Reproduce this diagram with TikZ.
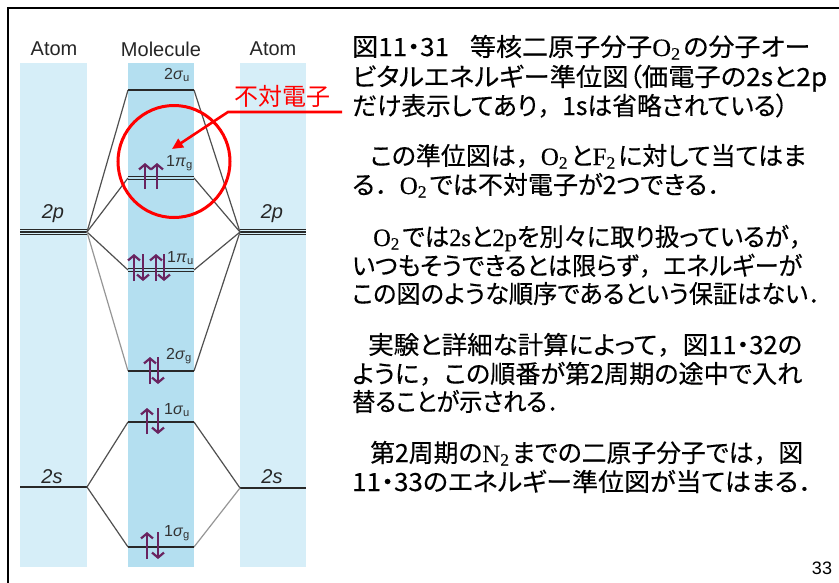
\documentclass[tikz,border=0pt]{standalone}
\usepackage{graphicx}
\usepackage{fontspec}
\setmainfont{Liberation Sans}
\newfontfamily\jp[CharacterWidth=AlternateProportional,FakeBold=0.3]{Noto Sans CJK JP}
\newfontfamily\jpn{Noto Sans CJK JP}
\newfontfamily\jpf[FakeBold=0.3]{Noto Sans CJK JP}
\newfontfamily\tm[FakeBold=0.3]{Liberation Serif}
\usetikzlibrary{arrows.meta}
\definecolor{bandA}{RGB}{214,238,248}
\definecolor{bandM}{RGB}{180,223,240}
\definecolor{lev}{RGB}{40,40,40}
\definecolor{conn}{RGB}{80,80,80}
\definecolor{connlt}{RGB}{150,150,150}
\definecolor{elec}{RGB}{105,35,95}
\definecolor{ann}{RGB}{255,0,0}
\newcommand\mol[2]{{\tm #1\textsubscript{#2}}\kern2.5pt}
\newcommand\fitw[2]{\resizebox{#1pt}{\height}{#2}}
\newcommand\cm{{\jpf ，}}
\newcommand\pd{{\jpf ．}}
\begin{document}
\begin{tikzpicture}[x=1pt,y=-1pt,
  level/.style={draw=lev,line width=2.6pt},
  levthin/.style={draw=lev,line width=1.4pt},
  conn/.style={draw=conn,line width=1.2pt},
  eline/.style={draw=elec,line width=1.3pt,-{Straight Barb[length=5pt,width=12pt,line width=2.2pt]}},
  lab/.style={inner sep=0,font=\fontsize{20}{20}\selectfont,text=black!85},
  orb/.style={inner sep=0,anchor=west,font=\fontsize{16}{16}\selectfont,text=black!80},
  jt/.style={anchor=base west,inner sep=0,font=\fontsize{25}{25}\jp},
  annline/.style={draw=ann,line width=2.6pt},
]
\useasboundingbox (0,0) rectangle (839,582);
\fill[white] (0,0) rectangle (839,582);
\draw[line width=2pt] (8,600) -- (8,8) -- (850,8);

% bands
\fill[bandA] (20,63) rectangle (87,567);
\fill[bandM] (128,63) rectangle (194,567);
\fill[bandA] (240,63) rectangle (306,567);

% headings
\node[lab] (atomL) at (54,49) {Atom};
\node[lab] (mol) at (161,49) {Molecule};
\node[lab] (atomR) at (273,49) {Atom};

% atomic levels
\coordinate (pLa) at (20,232); \coordinate (pL) at (87,232);
\coordinate (pR) at (240,232); \coordinate (pRb) at (306,232);
\coordinate (sLa) at (20,487); \coordinate (sL) at (87,487);
\coordinate (sR) at (240,488); \coordinate (sRb) at (306,488);
\foreach \d in {-2.6,0,2.6}{
  \draw[levthin] ([yshift=\d pt]pLa) -- ([yshift=\d pt]pL);
  \draw[levthin] ([yshift=\d pt]pR) -- ([yshift=\d pt]pRb);
}
\draw[level] (sLa) -- (sL);
\draw[level] (sR) -- (sRb);

% molecular levels
\coordinate (su2l) at (128,90);  \coordinate (su2r) at (194,90);
\coordinate (pg1l) at (128,178); \coordinate (pg1r) at (194,178);
\coordinate (pu1l) at (128,270); \coordinate (pu1r) at (194,270);
\coordinate (sg2l) at (128,371); \coordinate (sg2r) at (194,371);
\coordinate (su1l) at (128,422); \coordinate (su1r) at (194,422);
\coordinate (sg1l) at (128,547); \coordinate (sg1r) at (194,547);

% connectors
\draw[conn] (pL) -- (su2l);
\draw[conn] (pL) -- (pg1l);
\draw[conn] (pL) -- (pu1l);
\draw[conn,draw=connlt] (pL) -- (sg2l);
\draw[conn] (pR) -- (su2r);
\draw[conn] (pR) -- (pg1r);
\draw[conn] (pR) -- (pu1r);
\draw[conn] (pR) -- (sg2r);
\draw[conn] (sL) -- (su1l);
\draw[conn] (sL) -- (sg1l);
\draw[conn] (sR) -- (su1r);
\draw[conn,draw=connlt] (sR) -- (sg1r);

\draw[level] (su2l) -- (su2r);
\foreach \d in {-1.4,1.4}{
  \draw[levthin] ([yshift=\d pt]pg1l) -- ([yshift=\d pt]pg1r);
  \draw[levthin] ([yshift=\d pt]pu1l) -- ([yshift=\d pt]pu1r);
}
\draw[level] (sg2l) -- (sg2r);
\draw[level] (su1l) -- (su1r);
\draw[level] (sg1l) -- (sg1r);

% labels
\node[lab] (p2L) at (53,214) {\textit{2p}};
\node[lab] (p2R) at (272,214) {\textit{2p}};
\node[lab] (s2L) at (52,477) {\textit{2s}};
\node[lab] (s2R) at (272,477) {\textit{2s}};
\node[orb] (lsu2) at (164,75) {2\textit{σ}\textsubscript{u}};
\node[orb] (lpg1) at (166,163) {1\textit{π}\textsubscript{g}};
\node[orb] (lpu1) at (167,258) {1\textit{π}\textsubscript{u}};
\node[orb] (lsg2) at (166,356) {2\textit{σ}\textsubscript{g}};
\node[orb] (lsu1) at (164,410) {1\textit{σ}\textsubscript{u}};
\node[orb] (lsg1) at (164,533) {1\textit{σ}\textsubscript{g}};

% electrons
\draw[eline] (145,189) -- (145,163);
\draw[eline] (157,189) -- (157,163);
\draw[eline] (134,281) -- (134,254);
\draw[eline] (143,254) -- (143,281);
\draw[eline] (156,281) -- (156,254);
\draw[eline] (164,254) -- (164,281);
\draw[eline] (150,384) -- (150,357);
\draw[eline] (158,357) -- (158,384);
\draw[eline] (147,434) -- (147,408);
\draw[eline] (158,408) -- (158,434);
\draw[eline] (147,559) -- (147,532);
\draw[eline] (158,532) -- (158,559);

% annotation
\node[inner sep=0,font=\fontsize{24}{24}\jpn,text=ann] (unp) at (282,96) {不対電子};
\coordinate (aend) at (342,112);
\coordinate (akink) at (228,112);
\coordinate (atip) at (172,149);
\draw[annline,-{Triangle[length=11pt,width=10pt]}] (aend) -- (akink) -- (atip);
\node[draw=ann,line width=3pt,circle,minimum size=112pt,inner sep=0] (ring) at (174,161.5) {};

% text
\node[jt] (t1) at (352,56) {\fitw{458}{図11・31\hspace{0.8em}等核二原子分子\mol{O}{2}の分子オー}};
\node[jt] (t2) at (352,86) {\fitw{475}{ビタルエネルギー準位図（価電子の2sと2p}};
\node[jt] (t3) at (352,115) {\fitw{436}{だけ表示してあり\cm 1sは省略されている）}};
\node[jt] (t4) at (370,165) {\fitw{436}{この準位図は\cm\mol{O}{2}と\mol{F}{2}に対して当てはま}};
\node[jt] (t5) at (352,194) {\fitw{380}{る\pd\mol{O}{2}では不対電子が2つできる\pd}};
\node[jt] (t6) at (373,246) {\fitw{440}{\mol{O}{2}では{\tm 2s}と{\tm 2p}を別々に取り扱っているが\cm}};
\node[jt] (t7) at (352,275) {\fitw{450}{いつもそうできるとは限らず\cm エネルギーが}};
\node[jt] (t8) at (352,303) {\fitw{480}{この図のような順序であるという保証はない\pd}};
\node[jt] (t9) at (368,354) {\fitw{434}{実験と詳細な計算によって\cm 図11・32の}};
\node[jt] (t10) at (352,383) {\fitw{450}{ように\cm この順番が第2周期の途中で入れ}};
\node[jt] (t11) at (352,411) {\fitw{218}{替ることが示される\pd}};
\node[jt] (t12) at (370,462) {\fitw{433}{第2周期の\mol{N}{2}までの二原子分子では\cm 図}};
\node[jt] (t13) at (352,491) {\fitw{472}{11・33のエネルギー準位図が当てはまる\pd}};

\node[inner sep=0,font=\fontsize{18}{18}\selectfont] (pgno) at (822,568) {33};
\end{tikzpicture}
\end{document}
